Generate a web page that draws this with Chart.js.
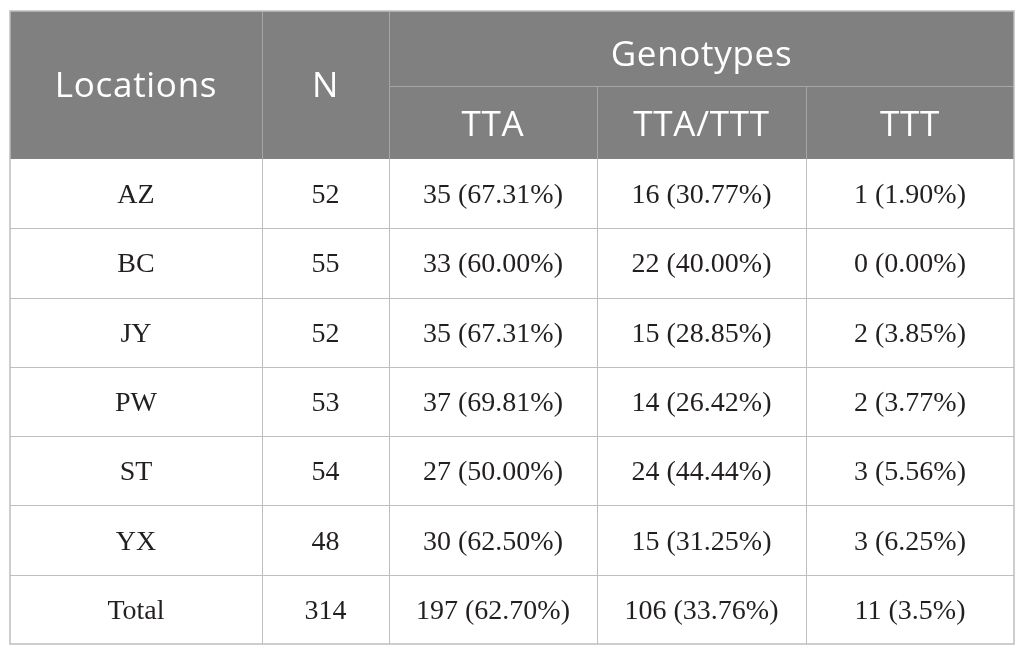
<!DOCTYPE html>
<html lang="en">
<head>
    <meta charset="UTF-8">
    <title>Genotypes by location</title>
    <script src="https://cdn.jsdelivr.net/npm/chart.js"></script>
    <style>
        html, body { margin: 0; padding: 0; background: #fff; }
        .wrap { width: 1025px; height: 655px; position: relative; }
    </style>
</head>
<body>
    <div class="wrap"><canvas id="table"></canvas></div>

    <script>
        // table content
        const locations = ['AZ', 'BC', 'JY', 'PW', 'ST', 'YX', 'Total'];
        const nValues = [52, 55, 52, 53, 54, 48, 314];
        const genotypes = ['TTA', 'TTA/TTT', 'TTT'];
        const ttaCounts = [35, 33, 35, 37, 27, 30, 197];
        const ttaPct = ['67.31', '60.00', '67.31', '69.81', '50.00', '62.50', '62.70'];
        const hetCounts = [16, 22, 15, 14, 24, 15, 106];
        const hetPct = ['30.77', '40.00', '28.85', '26.42', '44.44', '31.25', '33.76'];
        const tttCounts = [1, 0, 2, 2, 3, 3, 11];
        const tttPct = ['1.90', '0.00', '3.85', '3.77', '5.56', '6.25', '3.5'];

        // column edges and row edges in scale units
        const colEdges = [0, 252, 379, 587, 796, 1004];
        const headRowEdges = [0, 75, 148];
        const rowHeight = 69.3;

        const dataRows = locations.map((loc, i) => [
            loc,
            String(nValues[i]),
            ttaCounts[i] + ' (' + ttaPct[i] + '%)',
            hetCounts[i] + ' (' + hetPct[i] + '%)',
            tttCounts[i] + ' (' + tttPct[i] + '%)'
        ]);
        const tableHeight = headRowEdges[2] + rowHeight * locations.length;

        const tablePlugin = {
            id: 'tablePlugin',
            afterDraw(chart) {
                const ctx = chart.ctx;
                const xs = chart.scales.x, ys = chart.scales.y;
                const X = v => xs.getPixelForValue(v);
                const Y = v => ys.getPixelForValue(v);
                ctx.save();

                // header background
                ctx.fillStyle = '#808080';
                ctx.fillRect(X(0), Y(0), X(1004) - X(0), Y(headRowEdges[2]) - Y(0));

                // header lines
                ctx.strokeStyle = '#a6a6a6';
                ctx.lineWidth = 1;
                ctx.beginPath();
                ctx.moveTo(X(colEdges[1]) + 0.5, Y(0));
                ctx.lineTo(X(colEdges[1]) + 0.5, Y(headRowEdges[2]));
                ctx.moveTo(X(colEdges[2]) + 0.5, Y(0));
                ctx.lineTo(X(colEdges[2]) + 0.5, Y(headRowEdges[2]));
                ctx.moveTo(X(colEdges[2]), Math.round(Y(headRowEdges[1])) + 0.5);
                ctx.lineTo(X(1004), Math.round(Y(headRowEdges[1])) + 0.5);
                ctx.moveTo(X(colEdges[3]) + 0.5, Y(headRowEdges[1]));
                ctx.lineTo(X(colEdges[3]) + 0.5, Y(headRowEdges[2]));
                ctx.moveTo(X(colEdges[4]) + 0.5, Y(headRowEdges[1]));
                ctx.lineTo(X(colEdges[4]) + 0.5, Y(headRowEdges[2]));
                ctx.stroke();

                // body grid
                ctx.strokeStyle = '#bfbfbf';
                ctx.beginPath();
                for (let r = 1; r < locations.length; r++) {
                    const y = Math.round(Y(headRowEdges[2] + r * rowHeight)) + 0.5;
                    ctx.moveTo(X(0), y);
                    ctx.lineTo(X(1004), y);
                }
                for (let c = 1; c < colEdges.length - 1; c++) {
                    const x = Math.round(X(colEdges[c])) + 0.5;
                    ctx.moveTo(x, Y(headRowEdges[2]));
                    ctx.lineTo(x, Y(tableHeight));
                }
                ctx.stroke();

                // outer border
                ctx.strokeStyle = '#bdbdbd';
                ctx.lineWidth = 1.5;
                ctx.strokeRect(X(0), Y(0), X(1004) - X(0), Y(tableHeight) - Y(0));

                // header text (baseline placed so caps sit centred)
                ctx.fillStyle = '#ffffff';
                ctx.textAlign = 'center';
                ctx.textBaseline = 'alphabetic';
                ctx.font = '35px "Open Sans"';
                ctx.letterSpacing = '0.7px';
                const capHalf = 12.5;
                const midX = c => (X(colEdges[c]) + X(colEdges[c + 1])) / 2;
                ctx.fillText('Locations', midX(0), Y(headRowEdges[2] / 2) + capHalf);
                ctx.fillText('N', midX(1), Y(headRowEdges[2] / 2) + capHalf);
                ctx.fillText('Genotypes', (X(colEdges[2]) + X(1004)) / 2, Y(headRowEdges[1] / 2) + capHalf + 5);
                genotypes.forEach((g, i) => {
                    ctx.fillText(g, midX(i + 2), Y((headRowEdges[1] + headRowEdges[2]) / 2) + capHalf + 1);
                });

                // body text
                ctx.letterSpacing = '0px';
                ctx.fillStyle = '#231f20';
                ctx.font = '28px "Liberation Serif"';
                dataRows.forEach((row, r) => {
                    const cy = Y(headRowEdges[2] + (r + 0.5) * rowHeight);
                    row.forEach((txt, c) => ctx.fillText(txt, midX(c), cy + 9.5));
                });
                ctx.restore();
            }
        };

        new Chart(document.getElementById('table'), {
            type: 'scatter',
            data: { datasets: [{ data: [], pointRadius: 0 }] },
            options: {
                responsive: true,
                maintainAspectRatio: false,
                animation: false,
                events: [],
                layout: { padding: { left: 10, right: 11, top: 11, bottom: 11 } },
                plugins: { legend: { display: false }, tooltip: { enabled: false } },
                scales: {
                    x: { type: 'linear', min: 0, max: 1004, display: false },
                    y: { type: 'linear', min: 0, max: tableHeight, reverse: true, display: false }
                }
            },
            plugins: [tablePlugin]
        });
    </script>
</body>
</html>
